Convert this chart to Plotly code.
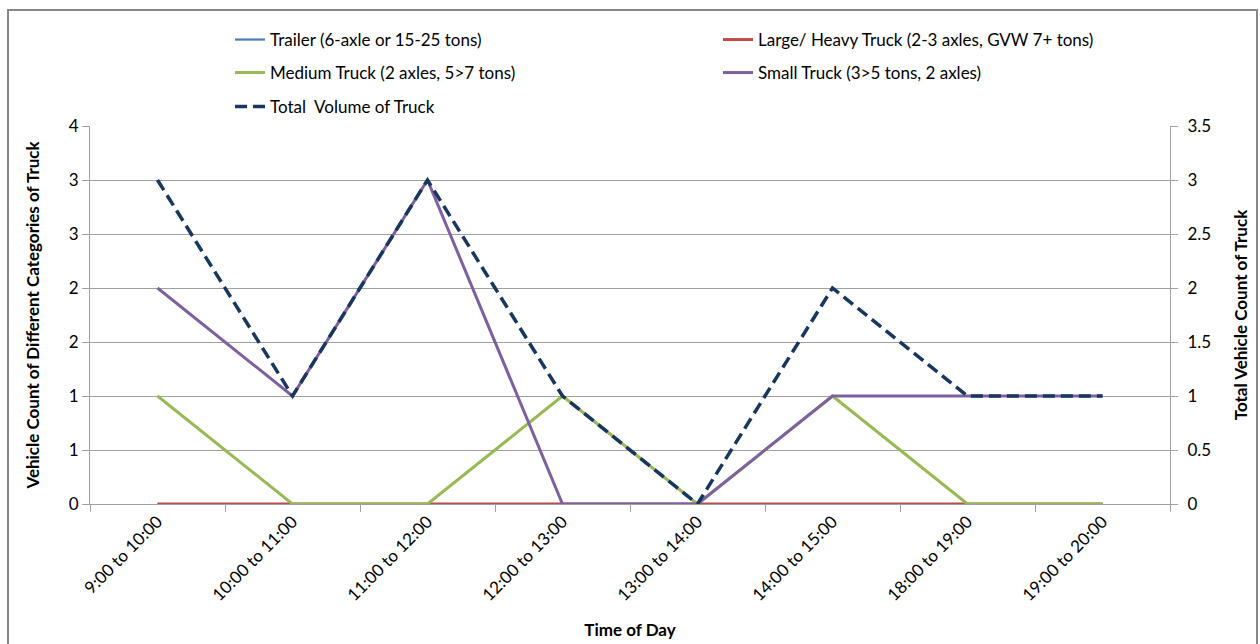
import plotly.graph_objects as go

categories = ["9:00 to 10:00", "10:00 to 11:00", "11:00 to 12:00", "12:00 to 13:00",
              "13:00 to 14:00", "14:00 to 15:00", "18:00 to 19:00", "19:00 to 20:00"]
trailer = [0, 0, 0, 0, 0, 0, 0, 0]
large_truck = [0, 0, 0, 0, 0, 0, 0, 0]
medium_truck = [1, 0, 0, 1, 0, 1, 0, 0]
small_truck = [2, 1, 3, 0, 0, 1, 1, 1]
total_volume = [3, 1, 3, 1, 0, 2, 1, 1]

left_tickvals = [0, 0.5, 1, 1.5, 2, 2.5, 3, 3.5]
left_ticktext = ["0", "1", "1", "2", "2", "3", "3", "4"]
right_ticktext = ["0", "0.5", "1", "1.5", "2", "2.5", "3", "3.5"]

FONT = "Lato"
FS = 17
W, H = 1260, 644
L, R, T, B = 90, 90, 126, 140
pw, ph = W - L - R, H - T - B

def px_x(px):
    return (px - L) / pw

def px_y(py):
    return (H - B - py) / ph

fig = go.Figure()
series = [
    ("Trailer (6-axle or 15-25 tons)", trailer, "#4A7EBB", "solid", "y", "legend", 2.2),
    ("Large/ Heavy Truck (2-3 axles, GVW 7+ tons)", large_truck, "#BE4B48", "solid", "y", "legend", 3),
    ("Medium Truck (2 axles, 5>7 tons)", medium_truck, "#98B954", "solid", "y", "legend2", 3),
    ("Small Truck (3>5 tons, 2 axles)", small_truck, "#7D60A0", "solid", "y", "legend2", 3),
    ("Total  Volume of Truck", total_volume, "#17375E", "12px,6px", "y2", "legend3", 3.5),
]
for name, vals, color, dash, yax, leg, lw in series:
    fig.add_trace(go.Scatter(
        x=categories, y=vals, name=name, mode="lines",
        line=dict(color=color, width=lw, dash=dash),
        yaxis=yax, legend=leg,
    ))

grid = "#A0A0A0"
legend_common = dict(orientation="h", xanchor="left", yanchor="middle",
                     entrywidth=443, entrywidthmode="pixels",
                     font=dict(family=FONT, size=FS, color="#000000"),
                     bgcolor="rgba(0,0,0,0)", x=px_x(230))

fig.update_layout(
    width=W, height=H,
    margin=dict(l=L, r=R, t=T, b=B, autoexpand=False),
    paper_bgcolor="white", plot_bgcolor="white",
    font=dict(family=FONT, size=FS, color="#000000"),
    legend=dict(legend_common, y=px_y(40)),
    legend2=dict(legend_common, y=px_y(73)),
    legend3=dict(legend_common, y=px_y(107)),
    xaxis=dict(
        type="category", range=[-0.5, 7.5], tickson="boundaries",
        ticks="outside", ticklen=7, tickcolor=grid, tickangle=-45,
        showline=True, linecolor=grid, linewidth=1, showgrid=False,
        layer="below traces",
        tickfont=dict(family=FONT, size=FS),
        title=dict(text="<b>Time of Day</b>", font=dict(family=FONT, size=FS), standoff=20),
    ),
    yaxis=dict(
        range=[0, 3.5], tickvals=left_tickvals, ticktext=left_ticktext,
        ticks="outside", ticklen=7, tickcolor=grid,
        showline=True, linecolor=grid, linewidth=1,
        showgrid=True, gridcolor=grid, gridwidth=1, zeroline=False,
        layer="below traces",
        tickfont=dict(family=FONT, size=FS),
        title=dict(text="<b>Vehicle Count of Different Categories of Truck</b>",
                   font=dict(family=FONT, size=FS), standoff=24),
    ),
    yaxis2=dict(
        range=[0, 3.5], tickvals=left_tickvals, ticktext=right_ticktext,
        overlaying="y", side="right",
        ticks="outside", ticklen=7, tickcolor=grid,
        showline=True, linecolor=grid, linewidth=1,
        showgrid=False, zeroline=False, ticklabelstandoff=6,
        layer="below traces",
        tickfont=dict(family=FONT, size=FS),
        title=dict(text="<b>Total Vehicle Count of Truck</b>",
                   font=dict(family=FONT, size=FS), standoff=24),
    ),
    shapes=[dict(type="rect", xref="paper", yref="paper",
                 x0=px_x(8), x1=px_x(1257), y0=px_y(660), y1=px_y(10),
                 line=dict(color="#878787", width=2), fillcolor="rgba(0,0,0,0)",
                 layer="below")],
)

fig.write_html("out.html")
